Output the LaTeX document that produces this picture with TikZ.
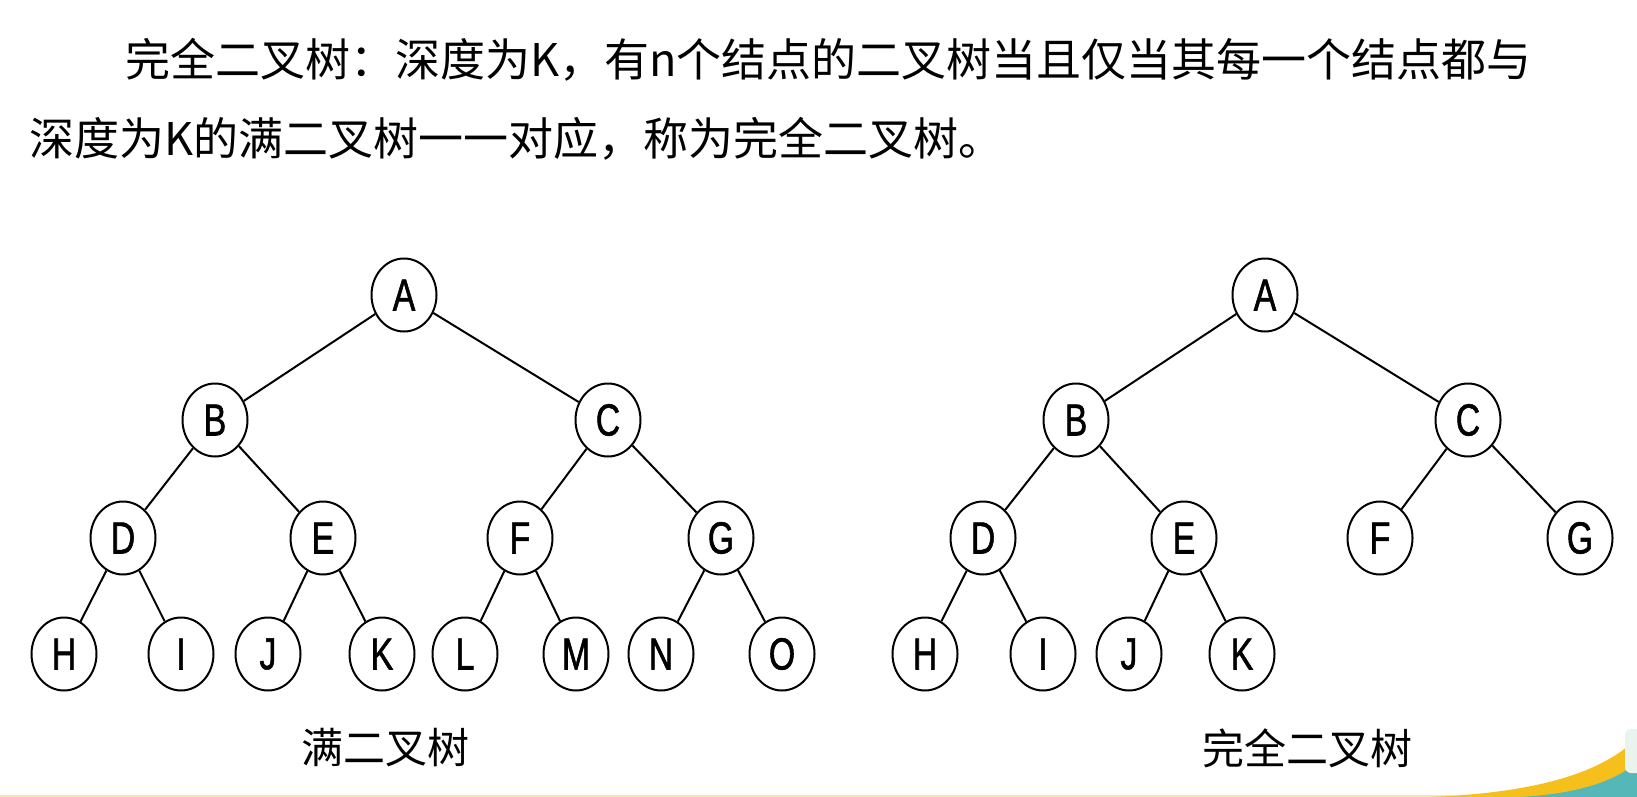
\documentclass[tikz,border=0pt]{standalone}
\usepackage{fontspec}
\usetikzlibrary{shapes.geometric}
\newfontfamily\cjk{Noto Sans CJK SC}
\newfontfamily\nodefont[FakeStretch=0.75,FakeBold=1.2]{Liberation Sans}
\definecolor{swyellow}{HTML}{F6C01C}
\definecolor{swteal}{HTML}{55B7B8}
\definecolor{swline}{HTML}{F5E7A8}
\definecolor{swbox}{HTML}{EAF3EE}
\begin{document}
\begin{tikzpicture}[x=1pt,y=-1pt,
  tn/.style={draw, ellipse, line width=2pt, minimum width=65pt, minimum height=73pt,
    inner sep=0pt, font=\nodefont\fontsize{45}{45}\selectfont},
  edge/.style={line width=2pt},
  head/.style={anchor=base west, inner sep=0pt, font=\cjk\fontsize{45}{45}\selectfont},
  captext/.style={anchor=center, inner sep=0pt, font=\cjk\fontsize{42}{42}\selectfont}]
\useasboundingbox[fill=white] (0,0) rectangle (1637,797);

% header text
\node[head] (h1) at (125,77) {完全二叉树：深度为K，有n个结点的二叉树当且仅当其每一个结点都与};
\node[head] (h2) at (29,155) {深度为K的满二叉树一一对应，称为完全二叉树。};

% left tree (full binary tree)
\node[tn] (LA) at (404,295) {A};
\node[tn] (LB) at (215,420) {B};
\node[tn] (LC) at (608,420) {C};
\node[tn] (LD) at (123,538) {D};
\node[tn] (LE) at (323,538) {E};
\node[tn] (LF) at (520,538) {F};
\node[tn] (LG) at (721,538) {G};
\node[tn] (LH) at (64,654) {H};
\node[tn] (LI) at (181,654) {I};
\node[tn] (LJ) at (268,654) {J};
\node[tn] (LK) at (382,654) {K};
\node[tn] (LL) at (465,654) {L};
\node[tn] (LM) at (576,654) {M};
\node[tn] (LN) at (661,654) {N};
\node[tn] (LO) at (782,654) {O};
\draw[edge] (LA) -- (LB);
\draw[edge] (LA) -- (LC);
\draw[edge] (LB) -- (LD);
\draw[edge] (LB) -- (LE);
\draw[edge] (LC) -- (LF);
\draw[edge] (LC) -- (LG);
\draw[edge] (LD) -- (LH);
\draw[edge] (LD) -- (LI);
\draw[edge] (LE) -- (LJ);
\draw[edge] (LE) -- (LK);
\draw[edge] (LF) -- (LL);
\draw[edge] (LF) -- (LM);
\draw[edge] (LG) -- (LN);
\draw[edge] (LG) -- (LO);
\node[captext] (lcap) at (385,748) {满二叉树};

% right tree (complete binary tree)
\node[tn] (RA) at (1265,295) {A};
\node[tn] (RB) at (1076,420) {B};
\node[tn] (RC) at (1468,420) {C};
\node[tn] (RD) at (983,538) {D};
\node[tn] (RE) at (1184,538) {E};
\node[tn] (RF) at (1380,538) {F};
\node[tn] (RG) at (1580,538) {G};
\node[tn] (RH) at (925,654) {H};
\node[tn] (RI) at (1043,654) {I};
\node[tn] (RJ) at (1129,654) {J};
\node[tn] (RK) at (1242,654) {K};
\draw[edge] (RA) -- (RB);
\draw[edge] (RA) -- (RC);
\draw[edge] (RB) -- (RD);
\draw[edge] (RB) -- (RE);
\draw[edge] (RC) -- (RF);
\draw[edge] (RC) -- (RG);
\draw[edge] (RD) -- (RH);
\draw[edge] (RD) -- (RI);
\draw[edge] (RE) -- (RJ);
\draw[edge] (RE) -- (RK);
\node[captext] (rcap) at (1307,748) {完全二叉树};

% slide decoration (bottom edge and corner swoosh)
\begin{scope}
\clip (0,0) rectangle (1637,797);
\draw[swline, line width=2pt] (0,796) -- (1637,796);
\fill[swyellow] (1430,797) .. controls (1530,793) and (1600,775) .. (1637,738) -- (1637,797) -- cycle;
\fill[swteal] (1520,797) .. controls (1575,794) and (1615,782) .. (1637,762) -- (1637,797) -- cycle;
\fill[swbox, rounded corners=6pt] (1625,729) rectangle (1660,773);
\end{scope}
\end{tikzpicture}
\end{document}
